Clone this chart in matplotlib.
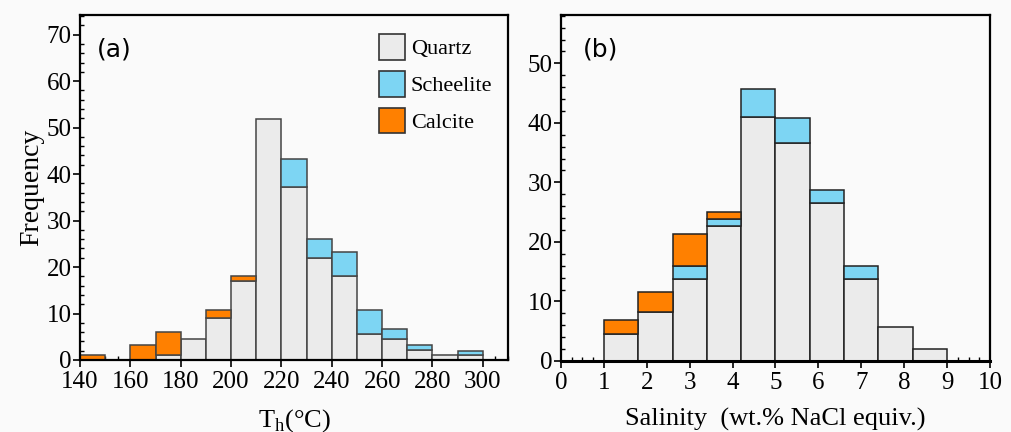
import numpy as np
import matplotlib
matplotlib.use("Agg")
import matplotlib.pyplot as plt
from matplotlib.ticker import MultipleLocator
from matplotlib.patches import Patch

# ---- data: panel (a) homogenization temperature ----
th_left = [140, 150, 160, 170, 180, 190, 200, 210, 220, 230, 240, 250, 260, 270, 280, 290]
th_quartz = [0, 0, 0, 1, 4.5, 9, 17, 51.8, 37.3, 22, 18, 5.5, 4.5, 2.2, 1, 1]
th_scheelite = [0, 0, 0, 0, 0, 0, 0, 0, 6, 4, 5.3, 5.2, 2.2, 1, 0, 1]
th_calcite = [1, 0, 3.3, 5, 0, 1.7, 1, 0, 0, 0, 0, 0, 0, 0, 0, 0]

# ---- data: panel (b) salinity ----
sal_left = [1.0, 1.8, 2.6, 3.4, 4.2, 5.0, 5.8, 6.6, 7.4, 8.2]
sal_quartz = [4.6, 8.2, 13.8, 22.6, 41.0, 36.6, 26.5, 13.7, 5.65, 2.07]
sal_scheelite = [0, 0, 2.2, 1.3, 4.7, 4.3, 2.2, 2.3, 0, 0]
sal_calcite = [2.3, 3.4, 5.3, 1.2, 0, 0, 0, 0, 0, 0]

series_names = ["Quartz", "Scheelite", "Calcite"]
colors = ["#ebebeb", "#7dd5f3", "#ff8000"]

plt.rcParams['font.family'] = ['Liberation Serif', 'DejaVu Serif']
plt.rcParams['mathtext.fontset'] = 'custom'
plt.rcParams['mathtext.rm'] = 'Liberation Serif'

bg = "#fafafa"
fig = plt.figure(figsize=(10.11, 4.32), dpi=100, facecolor=bg)
axA = fig.add_axes([0.0791, 0.1667, 0.4234, 0.7983], facecolor=bg)
axB = fig.add_axes([0.5549, 0.1644, 0.4243, 0.8006], facecolor=bg)

def stack(ax, left, width, q, s, c, ec):
    left = np.array(left, float)
    q = np.array(q, float); s = np.array(s, float); c = np.array(c, float)
    m = q > 0
    ax.bar(left[m], q[m], width=width, align='edge', color=colors[0], edgecolor=ec, linewidth=1.1, zorder=2)
    m = s > 0
    ax.bar(left[m], s[m], bottom=q[m], width=width, align='edge', color=colors[1], edgecolor=ec, linewidth=1.1, zorder=2)
    m = c > 0
    ax.bar(left[m], c[m], bottom=(q + s)[m], width=width, align='edge', color=colors[2], edgecolor=ec, linewidth=1.1, zorder=2)

stack(axA, th_left, 10, th_quartz, th_scheelite, th_calcite, "#444444")
stack(axB, sal_left, 0.8, sal_quartz, sal_scheelite, sal_calcite, "#222222")

for ax in (axA, axB):
    for sp in ax.spines.values():
        sp.set_linewidth(1.6)
        sp.set_color('black')
    ax.tick_params(axis='both', which='major', direction='out', length=5, width=1.2, labelsize=18, pad=3)
    ax.tick_params(axis='both', which='minor', direction='in', length=3, width=1.0)
    ax.tick_params(axis='y', which='major', pad=1)

axA.set_xlim(140, 310)
axA.set_ylim(0, 74.2)
axA.xaxis.set_major_locator(MultipleLocator(20))
axA.xaxis.set_minor_locator(MultipleLocator(5))
axA.yaxis.set_major_locator(MultipleLocator(10))
axA.yaxis.set_minor_locator(MultipleLocator(2))
axA.set_ylabel("Frequency", fontsize=20, labelpad=2)
axA.set_xlabel(r"T$_{\mathregular{h}}$(°C)", fontsize=19, labelpad=10)
axA.text(0.04, 0.90, "(a)", transform=axA.transAxes, fontsize=18,
         family=['DejaVu Sans'], va='center', ha='left')

handles = [Patch(facecolor=colors[i], edgecolor='#333333', linewidth=1.2, label=series_names[i]) for i in range(3)]
axA.legend(handles=handles, loc='upper right', frameon=False, fontsize=16,
           handlelength=1.2, handleheight=1.4, handletextpad=0.25, labelspacing=0.5,
           borderaxespad=0.3, bbox_to_anchor=(1.0, 0.99))

axB.set_xlim(0, 10)
axB.set_ylim(0, 58.1)
axB.xaxis.set_major_locator(MultipleLocator(1))
axB.xaxis.set_minor_locator(MultipleLocator(0.25))
axB.yaxis.set_major_locator(MultipleLocator(10))
axB.yaxis.set_minor_locator(MultipleLocator(2))
axB.spines['bottom'].set_linewidth(2.2)
axB.set_xlabel("Salinity  (wt.% NaCl equiv.)", fontsize=19, labelpad=10)
axB.text(0.05, 0.90, "(b)", transform=axB.transAxes, fontsize=18,
         family=['DejaVu Sans'], va='center', ha='left')

fig.savefig("out.png", dpi=100, facecolor=bg)
